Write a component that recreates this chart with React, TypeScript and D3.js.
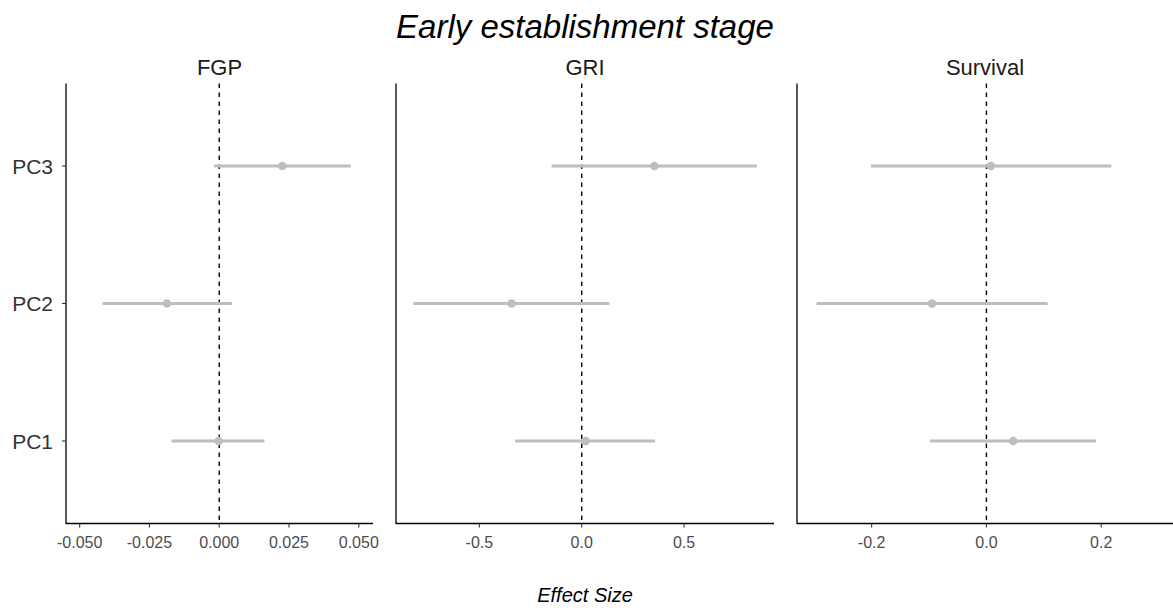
import React from "react";
import * as d3 from "d3";

// Principal components on the y axis (bottom to top)
const terms = ["PC1", "PC2", "PC3"];

// FGP coefficient estimates with 95% intervals
const fgpEst = [-0.0002, -0.0187, 0.0226];
const fgpLow = [-0.0171, -0.0418, -0.0018];
const fgpHigh = [0.0162, 0.0046, 0.0471];

// GRI
const griEst = [0.0195, -0.342, 0.355];
const griLow = [-0.326, -0.823, -0.147];
const griHigh = [0.358, 0.135, 0.855];

// Survival
const survEst = [0.0467, -0.0948, 0.0077];
const survLow = [-0.0984, -0.296, -0.201];
const survHigh = [0.1909, 0.1066, 0.2176];

// Axis ticks for each panel
const fgpTicks = [-0.05, -0.025, 0, 0.025, 0.05];
const griTicks = [-0.5, 0, 0.5];
const survTicks = [-0.2, 0, 0.2];

const W = 1173;
const H = 608;
const TOP = 83.5;
const BOTTOM = 523.5;
const FONT = "'Liberation Sans', Arial, sans-serif";
const GREY = "#bebebe";

const panels = [
  { title: "FGP", est: fgpEst, low: fgpLow, high: fgpHigh, ticks: fgpTicks, fmt: ".3f", domain: [-0.0549, 0.0551], range: [66, 373] },
  { title: "GRI", est: griEst, low: griLow, high: griHigh, ticks: griTicks, fmt: ".1f", domain: [-0.907, 0.939], range: [396, 774] },
  { title: "Survival", est: survEst, low: survLow, high: survHigh, ticks: survTicks, fmt: ".1f", domain: [-0.33, 0.325], range: [797, 1173] },
];

export default function App() {
  const y = d3.scalePoint<string>().domain(terms).range([BOTTOM, TOP]).padding(0.6);

  return (
    <svg width={W} height={H} style={{ position: "absolute", left: 0, top: 0, background: "#fff" }} fontFamily={FONT}>
      <rect width={W} height={H} fill="#fff" />
      <text x={585} y={38} textAnchor="middle" fontSize={33} fontStyle="italic" fill="#000">
        Early establishment stage
      </text>
      {panels.map((p, pi) => {
        const x = d3.scaleLinear().domain(p.domain).range(p.range);
        const fmt = d3.format(p.fmt);
        const cx = (p.range[0] + p.range[1]) / 2;
        return (
          <g key={p.title}>
            <text x={cx} y={75} textAnchor="middle" fontSize={22} fill="#1a1a1a">
              {p.title}
            </text>
            {/* zero reference */}
            <line x1={x(0)} x2={x(0)} y1={TOP} y2={BOTTOM} stroke="#000" strokeWidth={1.4} strokeDasharray="4.5,4.5" />
            {/* intervals and estimates */}
            {terms.map((t, i) => (
              <g key={t}>
                <line x1={x(p.low[i])} x2={x(p.high[i])} y1={y(t)} y2={y(t)} stroke={GREY} strokeWidth={3} />
                <circle cx={x(p.est[i])} cy={y(t)} r={4.3} fill={GREY} />
              </g>
            ))}
            {/* axes */}
            <line x1={p.range[0]} x2={p.range[0]} y1={TOP} y2={BOTTOM + 0.5} stroke="#000" strokeWidth={1.3} />
            <line x1={p.range[0]} x2={p.range[1]} y1={BOTTOM} y2={BOTTOM} stroke="#000" strokeWidth={1.3} />
            {p.ticks.map((v) => (
              <g key={v}>
                <line x1={x(v)} x2={x(v)} y1={BOTTOM} y2={BOTTOM + 4} stroke="#333" strokeWidth={1.1} />
                <text x={x(v)} y={BOTTOM + 24} textAnchor="middle" fontSize={16} fill="#4d4d4d">
                  {fmt(v).replace("\u2212", "-")}
                </text>
              </g>
            ))}
            {pi === 0 &&
              terms.map((t) => (
                <g key={t}>
                  <line x1={p.range[0] - 4} x2={p.range[0]} y1={y(t)} y2={y(t)} stroke="#333" strokeWidth={1.1} />
                  <text x={p.range[0] - 13} y={(y(t) as number) + 7.5} textAnchor="end" fontSize={21} fill="#333">
                    {t}
                  </text>
                </g>
              ))}
          </g>
        );
      })}
      <text x={585} y={602} textAnchor="middle" fontSize={20} fontStyle="italic" fill="#000">
        Effect Size
      </text>
    </svg>
  );
}
